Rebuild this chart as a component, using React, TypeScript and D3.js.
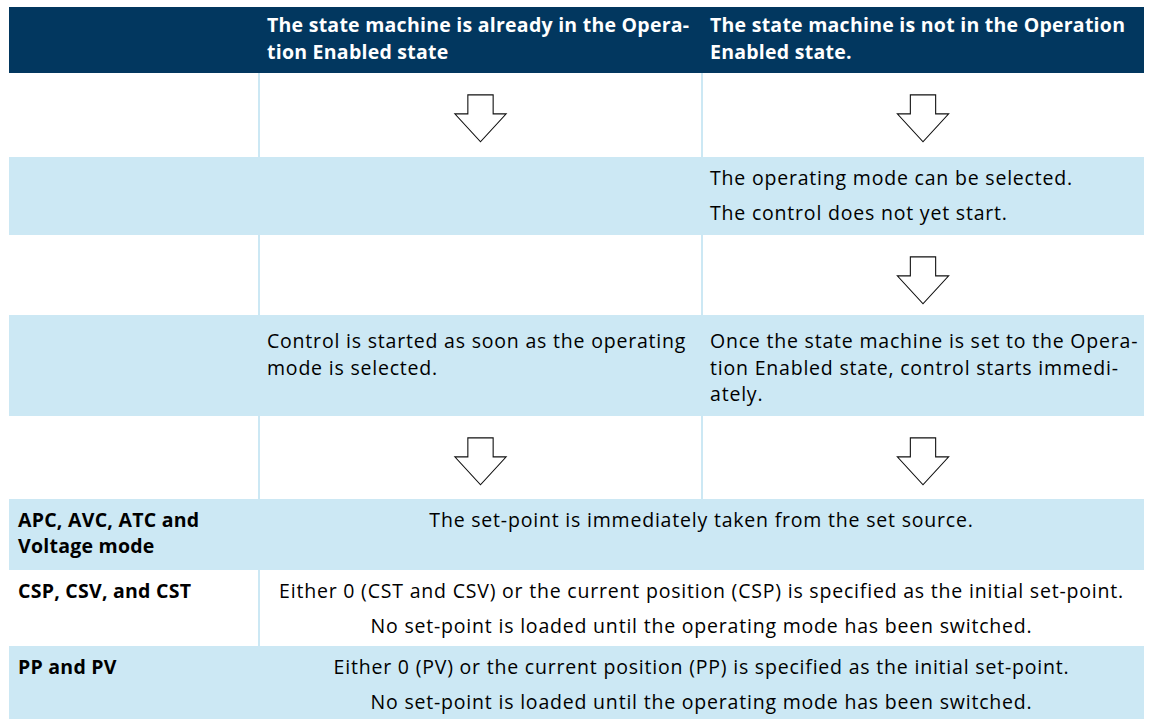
import React from "react";
import * as d3 from "d3";

const W = 1152;
const H = 720;

const colEdges = [9, 259, 702, 1144];
const rowHeights = [66, 84, 78, 80, 101, 83, 71, 76, 73];
const rowFills = ["header", "white", "blue", "white", "blue", "white", "blue", "white", "blue"];

const headerCol2 = ["The state machine is already in the Opera-", "tion Enabled state"];
const headerCol3 = ["The state machine is not in the Operation", "Enabled state."];

const arrowCells: [number, number][] = [
  [1, 1], [1, 2], [3, 2], [5, 1], [5, 2],
];

const row2Col3 = ["The operating mode can be selected.", "The control does not yet start."];
const row4Col2 = ["Control is started as soon as the operating", "mode is selected."];
const row4Col3 = ["Once the state machine is set to the Opera-", "tion Enabled state, control starts immedi-", "ately."];

const modeLabels = [["APC, AVC, ATC and", "Voltage mode"], ["CSP, CSV, and CST"], ["PP and PV"]];
const modeTexts = [
  ["The set-point is immediately taken from the set source."],
  ["Either 0 (CST and CSV) or the current position (CSP) is specified as the initial set-point.", "No set-point is loaded until the operating mode has been switched."],
  ["Either 0 (PV) or the current position (PP) is specified as the initial set-point.", "No set-point is loaded until the operating mode has been switched."],
];

const NAVY = "#02375f";
const LIGHT = "#cce8f4";
const FONT = "'Open Sans', 'Noto Sans', sans-serif";
const FS = 19.5;
const LS_REG = 0.8;
const LS_BOLD = 0.25;
const LINE = 27;
const PARA = 34.5;

export default function App() {
  const rowTops = [7, ...Array.from(d3.cumsum(rowHeights)).map((v) => 7 + v)];
  const x = d3.scaleOrdinal<number, number>().domain([0, 1, 2, 3]).range(colEdges);
  const y = (i: number) => rowTops[i];
  const tableLeft = x(0);
  const tableRight = x(3);

  const arrowPath = (cx: number, top: number) => {
    const p = d3.path();
    const sw = 11.5, hw = 23, sh = 19, th = 44;
    p.moveTo(cx - sw, top);
    p.lineTo(cx + sw, top);
    p.lineTo(cx + sw, top + sh);
    p.lineTo(cx + hw, top + sh);
    p.lineTo(cx, top + th);
    p.lineTo(cx - hw, top + sh);
    p.lineTo(cx - sw, top + sh);
    p.closePath();
    return p.toString();
  };

  const textLines = (lines: string[], tx: number, baseline: number, step: number, opts: any = {}) =>
    lines.map((l, i) => (
      <text key={i} x={tx} y={baseline + i * step} fontFamily={FONT} fontSize={FS} fill={opts.fill || "#000"}
        fontWeight={opts.bold ? 700 : 400} textAnchor={opts.anchor || "start"}
        letterSpacing={opts.bold ? LS_BOLD : LS_REG}>
        {l}
      </text>
    ));

  return (
    <svg width={W} height={H} style={{ position: "absolute", left: 0, top: 0, background: "#fff" }}>
      {rowHeights.map((h, i) => (
        <rect key={i} x={tableLeft} y={y(i)} width={tableRight - tableLeft} height={h}
          fill={rowFills[i] === "header" ? NAVY : rowFills[i] === "blue" ? LIGHT : "#fff"} />
      ))}
      {[1, 3, 5].map((r) => [1, 2].map((c) => (
        <line key={`d${r}${c}`} x1={x(c)} x2={x(c)} y1={y(r)} y2={y(r + 1)} stroke={LIGHT} strokeWidth={2} />
      )))}
      <line x1={x(1)} x2={x(1)} y1={y(7)} y2={y(8)} stroke={LIGHT} strokeWidth={2} />

      {textLines(headerCol2, x(1) + 8, y(0) + 25, LINE, { bold: true, fill: "#fff" })}
      {textLines(headerCol3, x(2) + 8, y(0) + 25, LINE, { bold: true, fill: "#fff" })}

      {arrowCells.map(([r, c], i) => {
        const cx = (x(c) + x(c + 1)) / 2;
        const d = arrowPath(cx, y(r) + 23);
        return (
          <g key={i}>
            <path d={d} fill="#fff" stroke="#111" strokeWidth={3.4} strokeLinejoin="miter" />
            <path d={d} fill="#fff" stroke="#fff" strokeWidth={1.2} strokeLinejoin="miter" />
          </g>
        );
      })}

      {textLines(row2Col3, x(2) + 8, y(2) + 28, PARA)}
      {textLines(row4Col2, x(1) + 8, y(4) + 33, LINE)}
      {textLines(row4Col3, x(2) + 8, y(4) + 33, LINE - 0.5)}

      {modeLabels.map((lines, k) => (
        <g key={`m${k}`}>
          {textLines(lines, x(0) + 9, y(6 + k) + 28, LINE - 1, { bold: true })}
          {textLines(modeTexts[k], (x(1) + x(3)) / 2, y(6 + k) + 28, PARA, { anchor: "middle" })}
        </g>
      ))}
    </svg>
  );
}
